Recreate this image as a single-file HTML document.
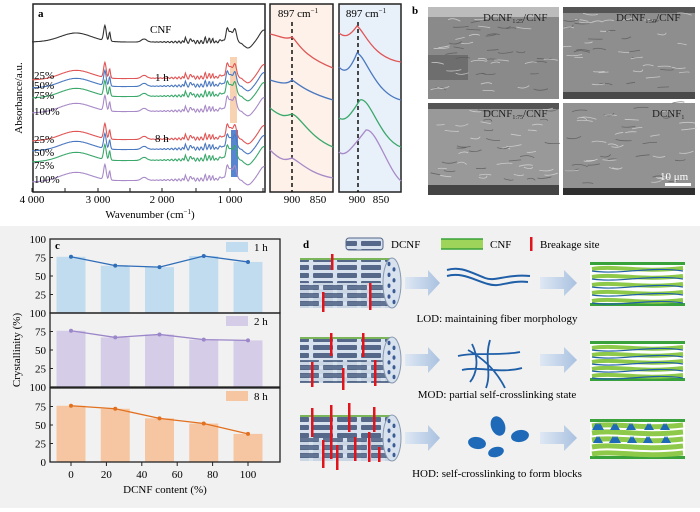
<!DOCTYPE html>
<html><head><meta charset="utf-8"><style>
html,body{margin:0;padding:0;background:#fff;}
svg{display:block;font-family:"Liberation Serif",serif;}
</style></head><body>
<svg id="s" width="700" height="512" viewBox="0 0 700 512" xmlns="http://www.w3.org/2000/svg">
<defs>
<linearGradient id="arr" x1="0" x2="1"><stop offset="0" stop-color="#dfe8f4"/><stop offset="1" stop-color="#a9c1e0"/></linearGradient>
<pattern id="brick" width="24" height="8" patternUnits="userSpaceOnUse"><rect width="24" height="8" fill="#d8e2ee"/><rect x="1" y="1" width="20" height="5" rx="1" fill="#55688a"/></pattern>
<pattern id="brick2" width="24" height="8" patternUnits="userSpaceOnUse" patternTransform="translate(10,4)"><rect width="24" height="8" fill="#d8e2ee"/><rect x="1" y="1" width="20" height="5" rx="1" fill="#55688a"/></pattern>
</defs>
<rect x="0" y="226" width="700" height="282" fill="#f1f1f1"/>
<!-- panel a -->
<rect x="33" y="4" width="232" height="188" fill="#fff" stroke="#222" stroke-width="1.5"/>
<rect x="270" y="4" width="63" height="188" fill="#fdf1e9" stroke="#222" stroke-width="1.5"/>
<rect x="339" y="4" width="62" height="188" fill="#e8f0f9" stroke="#222" stroke-width="1.5"/>
<rect x="230" y="57" width="7" height="66" fill="#f5c8a0" opacity="0.8"/>
<rect x="231" y="130" width="7" height="47" fill="#3a70c8" opacity="0.85"/>
<g id="spec"></g>
<text x="38" y="17" font-size="11" font-weight="bold">a</text>
<text x="150" y="33" font-size="11">CNF</text>
<text x="155" y="81" font-size="11">1 h</text>
<text x="155" y="142" font-size="11">8 h</text>
<g font-size="11">
<text x="34" y="79">25%</text><text x="34" y="89">50%</text><text x="34" y="99">75%</text><text x="34" y="115">100%</text>
<text x="34" y="143">25%</text><text x="34" y="156">50%</text><text x="34" y="169">75%</text><text x="34" y="183">100%</text>
</g>
<text transform="translate(22,98) rotate(-90)" font-size="11" text-anchor="middle">Absorbance/a.u.</text>
<g font-size="11" text-anchor="middle">
<text x="32" y="203">4 000</text><text x="98" y="203">3 000</text><text x="162" y="203">2 000</text><text x="230" y="203">1 000</text>
<text x="292" y="203">900</text><text x="318" y="203">850</text>
<text x="357" y="203">900</text><text x="381" y="203">850</text>
<text x="150" y="218">Wavenumber (cm<tspan dy="-4" font-size="7">−1</tspan><tspan dy="4">)</tspan></text>
<text x="298" y="17">897 cm<tspan dy="-4" font-size="7">−1</tspan></text>
<text x="366" y="17">897 cm<tspan dy="-4" font-size="7">−1</tspan></text>
</g>
<line x1="292" y1="22" x2="292" y2="192" stroke="#111" stroke-width="1.5" stroke-dasharray="4,3"/>
<line x1="358" y1="22" x2="358" y2="192" stroke="#111" stroke-width="1.5" stroke-dasharray="4,3"/>
<g fill="none" stroke-width="1.3">
<path d="M270 34 C280 36 286 40 292 37 C298 42 302 56 333 68" stroke="#e05555"/>
<path d="M270 80 C282 84 288 84 292 80 C296 82 305 92 333 100" stroke="#4a78c0"/>
<path d="M270 108 C282 118 286 116 292 114 C300 116 310 138 333 147" stroke="#3aa86a"/>
<path d="M270 150 C282 162 286 160 292 158 C300 162 310 174 333 178" stroke="#a88ac8"/>
<path d="M339 33 C345 38 350 36 357 26 C364 30 372 58 401 62" stroke="#e05555"/>
<path d="M339 67 C345 74 350 70 357 53 C366 56 375 94 401 100" stroke="#4a78c0"/>
<path d="M339 118 C345 122 350 116 360 100 C370 96 380 140 401 147" stroke="#3aa86a"/>
<path d="M339 152 C345 158 352 148 366 130 C376 128 388 170 401 181" stroke="#a88ac8"/>
</g>
<!-- panel b SEM -->
<text x="412" y="14" font-size="11" font-weight="bold">b</text>
<g>
<rect x="428" y="7" width="131" height="92" fill="#8a8a8a"/>
<rect x="428" y="55" width="40" height="25" fill="#5c5c5c" opacity="0.6"/>
<rect x="428" y="7" width="131" height="10" fill="#bcbcbc"/>
<rect x="563" y="7" width="132" height="92" fill="#8e8e8e"/>
<rect x="563" y="7" width="132" height="6" fill="#555"/>
<rect x="563" y="92" width="132" height="7" fill="#4a4a4a"/>
<rect x="428" y="103" width="131" height="92" fill="#999"/>
<rect x="428" y="103" width="131" height="6" fill="#555"/>
<rect x="428" y="185" width="131" height="10" fill="#444"/>
<rect x="563" y="103" width="132" height="92" fill="#929292"/>
<rect x="563" y="188" width="132" height="7" fill="#2e2e2e"/>
</g>
<g id="sem"></g>
<rect x="665" y="183" width="26" height="3" fill="#fff"/>
<g font-size="11" fill="#222">
<text x="483" y="21">DCNF<tspan font-size="6" dy="2">1:25</tspan><tspan dy="-2">/CNF</tspan></text>
<text x="616" y="21">DCNF<tspan font-size="6" dy="2">1:50</tspan><tspan dy="-2">/CNF</tspan></text>
<text x="483" y="117">DCNF<tspan font-size="6" dy="2">1:75</tspan><tspan dy="-2">/CNF</tspan></text>
<text x="652" y="117">DCNF<tspan font-size="6" dy="2">1</tspan></text>
<text x="660" y="180" fill="#fff">10 μm</text>
</g>
<!-- panel c -->
<g id="c"></g>
<!-- panel d -->
<g id="d"></g>
</svg>
<script>
const NS="http://www.w3.org/2000/svg";
function el(p,t,a,txt){const e=document.createElementNS(NS,t);for(const k in a)e.setAttribute(k,a[k]);if(txt!==undefined)e.textContent=txt;p.appendChild(e);return e;}
function g(w,c,s){return Math.exp(-((w-c)*(w-c))/(2*s*s));}
function spec(w,k){let h=9*g(w,3350,230)+15*g(w,2920,18)+9*g(w,2850,12)+3*g(w,2340,40)
+5*g(w,1730,8)+3*g(w,1640,15)+4*g(w,1430,10)+4*g(w,1370,8)+3*g(w,1320,8)+2*g(w,1200,20)
+10*g(w,1060,45)+8*g(w,1110,18)+10*g(w,990,22)-6*g(w,800,60)+12*g(w,560,70)+2*Math.sin(w*0.9)*g(w,1550,300)*0.8;
return h;}
const sp=document.getElementById('spec');
const curves=[[42,'#333'],[80,'#e05555'],[88,'#4a78c0'],[98,'#3aa86a'],[113,'#a88ac8'],[141,'#e05555'],[151,'#4a78c0'],[162,'#3aa86a'],[182,'#a88ac8']];
curves.forEach((c,i)=>{let d='';for(let w=4000;w>=550;w-=8){const x=32+(4000-w)*0.0675;const y=c[0]-spec(w,i)-(i==0?0:(4000-w)*0.001);d+=(d?'L':'M')+x.toFixed(1)+' '+y.toFixed(1);}
el(sp,'path',{d:d,fill:'none',stroke:c[1],'stroke-width':1.1});});
[32,65,98,130,162,196,230,263].forEach(x=>el(sp,'line',{x1:x,y1:192,x2:x,y2:188,stroke:'#222'}));
// SEM texture
const S=document.getElementById('sem');
let seed=7;const rnd=()=>{seed=(seed*9301+49297)%233280;return seed/233280;};
[[428,17,131,80],[563,13,132,79],[428,109,131,76],[563,103,132,85]].forEach(b=>{for(let k=0;k<45;k++){const x=b[0]+rnd()*(b[2]-12),y=b[1]+rnd()*(b[3]-4);
el(S,'path',{d:`M${x} ${y} q${4+rnd()*6} ${rnd()*6-3} ${8+rnd()*8} ${rnd()*4-2}`,stroke:rnd()>0.4?'#d8d8d8':'#5a5a5a','stroke-width':0.8,fill:'none',opacity:0.8});}});
// panel c
const C=document.getElementById('c');
const subs=[[239,'#c2dcef','#2f6db8','1 h',[76,64,62,77,69]],[313,'#d5cde8','#9b86c9','2 h',[76,67,71,64,63]],[388,'#f6c6a3','#e2701f','8 h',[76,72,59,52,38]]];
const X=v=>71+v*1.77;
subs.forEach((s,i)=>{const top=s[0],bot=top+74;
s[4].forEach((v,j)=>{const x=X(j*25);el(C,'rect',{x:x-14.5,y:bot-v*0.74,width:29,height:v*0.74,fill:s[1]});});
let d='';s[4].forEach((v,j)=>{d+=(j?'L':'M')+X(j*25)+' '+(bot-v*0.74);});
el(C,'path',{d:d,fill:'none',stroke:s[2],'stroke-width':1.3});
s[4].forEach((v,j)=>el(C,'circle',{cx:X(j*25),cy:bot-v*0.74,r:2,fill:s[2]}));
el(C,'rect',{x:226,y:top+3,width:22,height:10,fill:s[1]});
el(C,'text',{x:254,y:top+12,'font-size':11},s[3]);
el(C,'rect',{x:50,y:top,width:230,height:74,fill:'none',stroke:'#222','stroke-width':1.3});
[0,25,50,75,100].forEach(t=>{const y=bot-t*0.74;el(C,'line',{x1:50,y1:y,x2:53,y2:y,stroke:'#222'});
const lbl=(t==0&&i<2)?'100':String(t);if(t==100&&i>0)return;el(C,'text',{x:46,y:y+4,'font-size':11,'text-anchor':'end'},lbl);});
});
el(C,'text',{x:55,y:249,'font-size':11,'font-weight':'bold'},'c');
[0,20,40,60,80,100].forEach(v=>{const x=X(v);el(C,'line',{x1:x,y1:462,x2:x,y2:466,stroke:'#222'});el(C,'text',{x:x,y:478,'font-size':11,'text-anchor':'middle'},String(v));});
el(C,'text',{x:165,y:493,'font-size':11,'text-anchor':'middle'},'DCNF content (%)');
el(C,'text',{x:0,y:0,'font-size':11,'text-anchor':'middle',transform:'translate(20,350) rotate(-90)'},'Crystallinity (%)');
// panel d
const D=document.getElementById('d');
el(D,'text',{x:303,y:248,'font-size':11,'font-weight':'bold'},'d');
el(D,'rect',{x:346,y:238,width:37,height:12,rx:3,fill:'url(#brick)',stroke:'#55688a'});
el(D,'text',{x:391,y:248,'font-size':11},'DCNF');
el(D,'rect',{x:441,y:239,width:42,height:10,fill:'#9fd45a'});
el(D,'line',{x1:441,y1:239,x2:483,y2:239,stroke:'#3aa23a','stroke-width':1.5});el(D,'line',{x1:441,y1:249,x2:483,y2:249,stroke:'#3aa23a','stroke-width':1.5});
el(D,'text',{x:490,y:248,'font-size':11},'CNF');
el(D,'rect',{x:530,y:237,width:2.5,height:14,fill:'#e0141a'});
el(D,'text',{x:540,y:248,'font-size':11},'Breakage site');
const rows=[[258,'LOD: maintaining fiber morphology',322,[[331,254,270],[322,292,312],[369,283,310]]],
[337,'MOD: partial self-crosslinking state',398,[[330,333,356],[362,333,357],[311,362,387],[342,368,390],[374,360,386]]],
[415,'HOD: self-crosslinking to form blocks',477,[[311,408,437],[330,405,432],[348,403,432],[373,407,432],[322,440,468],[330,432,459],[336,445,470],[354,437,461],[368,432,462],[378,447,462]]]];
rows.forEach((r,i)=>{const y=r[0],h=(i==0?50:46);
el(D,'rect',{x:300,y:y,width:92,height:h,fill:'url(#brick)'});
el(D,'rect',{x:300,y:y+h/2,width:92,height:h/2,fill:'url(#brick2)',opacity:0.9});
el(D,'rect',{x:300,y:y,width:92,height:2,fill:'#7ab55a'});
el(D,'ellipse',{cx:392,cy:y+h/2,rx:9,ry:h/2,fill:'#d8e2ee',stroke:'#8899b0'});
for(let k=0;k<8;k++)el(D,'ellipse',{cx:389+(k%2)*5,cy:y+6+k*(h-12)/7,rx:1.5,ry:2.2,fill:'#3b5b95'});
r[3].forEach(b=>el(D,'rect',{x:b[0],y:b[1],width:2.5,height:b[2]-b[1],fill:'#e0141a'}));
el(D,'polygon',{points:`405,${y+h/2-6} 428,${y+h/2-6} 428,${y+h/2-13} 440,${y+h/2} 428,${y+h/2+13} 428,${y+h/2+6} 405,${y+h/2+6}`,fill:'url(#arr)'});
el(D,'polygon',{points:`540,${y+h/2-6} 564,${y+h/2-6} 564,${y+h/2-13} 577,${y+h/2} 564,${y+h/2+13} 564,${y+h/2+6} 540,${y+h/2+6}`,fill:'url(#arr)'});
const fy=y+4,fh=h-6;
el(D,'rect',{x:590,y:fy,width:95,height:fh,fill:'#fff'});
el(D,'rect',{x:590,y:fy,width:95,height:3,fill:'#3aa23a'});el(D,'rect',{x:590,y:fy+fh-3,width:95,height:3,fill:'#3aa23a'});
for(let k=0;k<5;k++){const yy=fy+7+k*(fh-12)/4;
el(D,'path',{d:`M592 ${yy} C615 ${yy-4} 640 ${yy+4} 683 ${yy-1}`,stroke:'#8ec94a','stroke-width':i==2?5:4,fill:'none'});
if(i<2)el(D,'path',{d:`M592 ${yy+2} C620 ${yy+6} 650 ${yy-3} 683 ${yy+2}`,stroke:'#1f5fa8','stroke-width':1.2,fill:'none'});}
if(i==2)for(let k=0;k<22;k++){const px=596+(k*17)%84,py=fy+8+((k*13)%(fh-14));el(D,'polygon',{points:`${px},${py-4} ${px+4},${py+3} ${px-4},${py+3}`,fill:'#1f6ab8'});}
el(D,'text',{x:497,y:r[2],'font-size':11,'text-anchor':'middle'},r[1]);
});
el(D,'path',{d:'M447 270 C460 266 470 272 485 278 C495 282 505 274 530 276 M447 276 C462 272 474 280 488 284 C500 288 508 280 528 282',stroke:'#1f5fa8','stroke-width':2,fill:'none'});
el(D,'path',{d:'M472 344 C480 360 476 375 470 382 M490 340 C484 360 492 372 486 388 M458 356 C475 352 500 356 520 352 M462 370 C480 366 500 374 522 368 M468 350 C490 362 500 378 505 388',stroke:'#1f5fa8','stroke-width':1.8,fill:'none'});
[[498,426,7,10,-20],[477,443,9,6,10],[520,436,9,6,-10],[496,452,8,5,-15]].forEach(b=>el(D,'ellipse',{cx:b[0],cy:b[1],rx:b[2],ry:b[3],fill:'#1f6ab8',transform:`rotate(${b[4]} ${b[0]} ${b[1]})`}));
</script>
</body></html>
